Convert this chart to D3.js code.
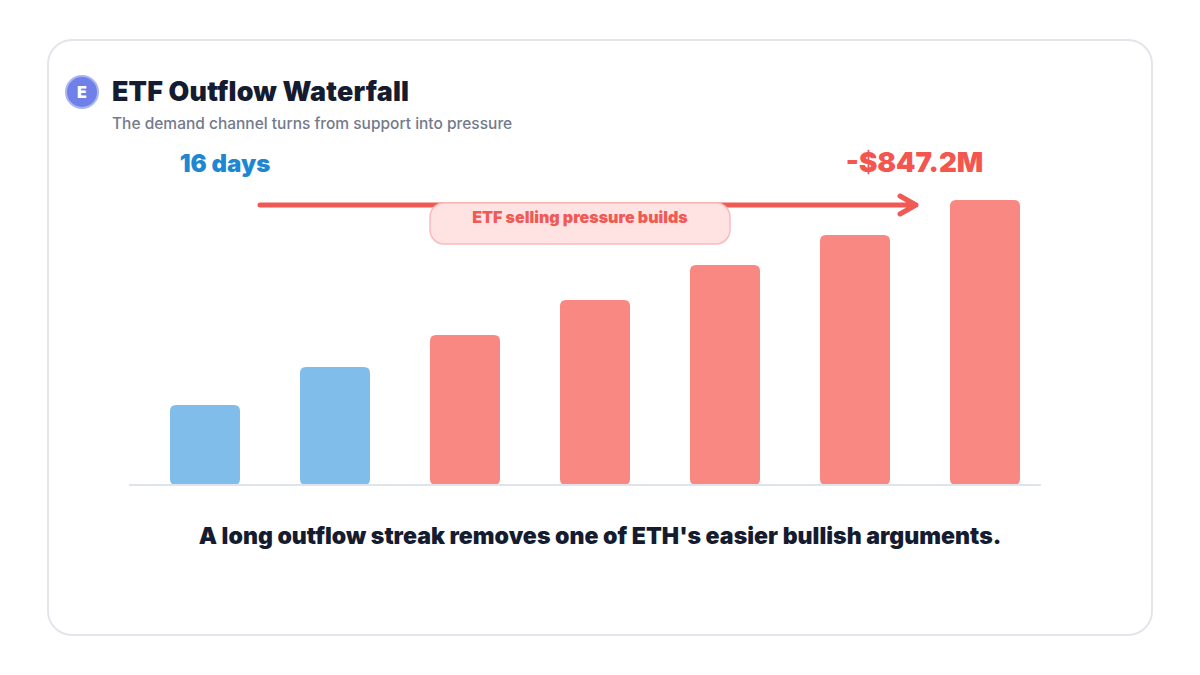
<!DOCTYPE html>
<html>
<head>
<meta charset="utf-8">
<script src="https://cdn.jsdelivr.net/npm/d3@7/dist/d3.min.js"></script>
<style>
  html, body { margin: 0; padding: 0; background: #ffffff; }
  svg { display: block; }
  text { font-family: Inter, "Noto Sans", sans-serif; }
</style>
</head>
<body>
<svg id="chart" width="1200" height="675"></svg>
<script>
// Cumulative outflow steps in $M; the final step is the stated total.
const steps = ["1", "2", "3", "4", "5", "6", "7"];
const outflows = [238, 351, 446, 550, 654, 743, 847.2];
const stepColors = ["#80bdea", "#80bdea", "#f98882", "#f98882", "#f98882", "#f98882", "#f98882"];

const titleText = "ETF Outflow Waterfall";
const subtitleText = "The demand channel turns from support into pressure";
const streakText = "16 days";
const totalText = "-$847.2M";
const pillText = "ETF selling pressure builds";
const takeawayText = "A long outflow streak removes one of ETH's easier bullish arguments.";

const svg = d3.select("#chart");

const x = d3.scaleBand().domain(steps).range([170, 1020]).paddingInner(60 / 130);
const y = d3.scaleLinear().domain([0, 847.2]).range([485, 200]);

// Card
svg.append("rect")
  .attr("x", 48).attr("y", 40).attr("width", 1104).attr("height", 595)
  .attr("rx", 24).attr("fill", "#ffffff")
  .attr("stroke", "#e2e5ea").attr("stroke-width", 2);

// Badge
svg.append("circle")
  .attr("cx", 82).attr("cy", 92).attr("r", 16)
  .attr("fill", "#6f80e8").attr("stroke", "#aab5f2").attr("stroke-width", 2);
svg.append("text")
  .attr("x", 82).attr("y", 97.5).attr("text-anchor", "middle")
  .attr("font-size", 16).attr("font-weight", 900).attr("fill", "#ffffff")
  .text("E");

// Header
svg.append("text")
  .attr("x", 112).attr("y", 100.5)
  .attr("font-size", 26.8).attr("font-weight", 900).attr("fill", "#161c2f")
  .attr("letter-spacing", 0.2)
  .text(titleText);
svg.append("text")
  .attr("x", 112).attr("y", 129)
  .attr("font-size", 15.5).attr("font-weight", 500).attr("fill", "#737a8c")
  .text(subtitleText);

// Bars
svg.append("g").selectAll("path")
  .data(outflows)
  .join("path")
  .attr("fill", (d, i) => stepColors[i])
  .attr("d", (d, i) => {
    const x0 = x(steps[i]), x1 = x0 + x.bandwidth();
    const y0 = y(d), y1 = y(0), r = 6;
    return `M${x0},${y0 + r}Q${x0},${y0} ${x0 + r},${y0}H${x1 - r}Q${x1},${y0} ${x1},${y0 + r}` +
           `V${y1 - r}Q${x1},${y1} ${x1 - r},${y1}H${x0 + r}Q${x0},${y1} ${x0},${y1 - r}Z`;
  });

// Baseline
svg.append("line")
  .attr("x1", 129).attr("x2", 1041).attr("y1", 485).attr("y2", 485)
  .attr("stroke", "#dfe3ec").attr("stroke-width", 2);

// Trend arrow
svg.append("path")
  .attr("d", "M260,205H916M900,196L916,205L900,214")
  .attr("fill", "none").attr("stroke", "#ef5a55").attr("stroke-width", 5)
  .attr("stroke-linecap", "round").attr("stroke-linejoin", "round");

// Callouts
svg.append("text")
  .attr("x", 225).attr("y", 172).attr("text-anchor", "middle")
  .attr("font-size", 24).attr("font-weight", 900).attr("fill", "#1f87d2")
  .text(streakText);
svg.append("text")
  .attr("x", 914.5).attr("y", 172).attr("text-anchor", "middle")
  .attr("font-size", 27.7).attr("font-weight", 900).attr("fill", "#f4554f")
  .text(totalText);

// Pill annotation
svg.append("rect")
  .attr("x", 430).attr("y", 203).attr("width", 300).attr("height", 41)
  .attr("rx", 14).attr("fill", "#ffe3e3")
  .attr("stroke", "#f9bdb9").attr("stroke-width", 1.5);
svg.append("text")
  .attr("x", 580).attr("y", 222.5).attr("text-anchor", "middle")
  .attr("font-size", 16).attr("font-weight", 900).attr("fill", "#ef5a55")
  .text(pillText);

// Takeaway
svg.append("text")
  .attr("x", 600).attr("y", 544).attr("text-anchor", "middle")
  .attr("font-size", 23.1).attr("font-weight", 900).attr("fill", "#161c2f")
  .text(takeawayText);
</script>
</body>
</html>
